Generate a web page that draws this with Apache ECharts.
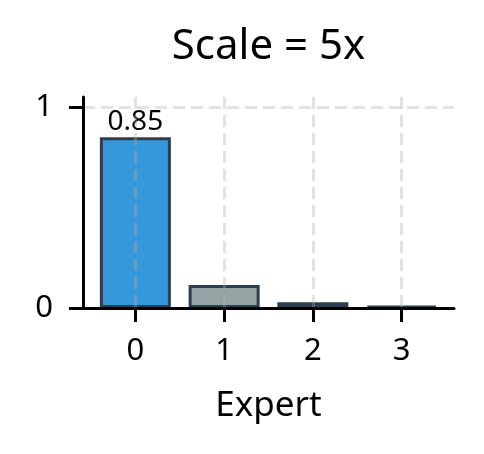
<!DOCTYPE html>
<html>
<head>
<meta charset="utf-8">
<script src="https://cdn.jsdelivr.net/npm/echarts@6/dist/echarts.min.js"></script>
<style>html,body{margin:0;padding:0;background:#fff}#c{width:484px;height:454px}</style>
</head>
<body>
<div id="c"></div>
<script>
var titleText = 'Scale = 5x';
var xName = 'Expert';
var experts = [0, 1, 2, 3];
var values = [0.85, 0.115, 0.028, 0.011];
var barColors = ['#3498db', '#95a5a6', '#95a5a6', '#95a5a6'];
var xTicks = [0, 1, 2, 3];
var yTicks = [0, 1];
var labelText = ['0.85', '', '', ''];

var FONT = '"Noto Sans", sans-serif';
var chart = echarts.init(document.getElementById('c'), null, {renderer: 'canvas'});
var gridStyle = {show: true, lineStyle: {color: 'rgba(176,176,176,0.35)', width: 3, type: [12, 6]}};
chart.setOption({
  animation: false,
  backgroundColor: '#fff',
  title: {
    text: titleText, left: 268.5, top: 26, textAlign: 'center', padding: 0,
    textStyle: {fontFamily: FONT, fontSize: 42, fontWeight: 'normal', color: '#000'}
  },
  grid: {left: 83, right: 30, top: 97, bottom: 146, containLabel: false},
  xAxis: {
    type: 'value', min: -0.59, max: 3.59, z: 3,
    name: xName, nameLocation: 'middle', nameGap: 81,
    nameTextStyle: {fontFamily: FONT, fontSize: 35, color: '#000'},
    axisLine: {show: true, onZero: false, lineStyle: {color: '#000', width: 3}},
    axisTick: {show: true, length: 14, lineStyle: {color: '#000', width: 3}, customValues: xTicks},
    axisLabel: {show: true, margin: 28, fontFamily: FONT, fontSize: 31, color: '#000', customValues: xTicks, formatter: function(v){return String(v);}},
    splitLine: gridStyle
  },
  yAxis: {
    type: 'value', min: 0, max: 1.05, z: 3,
    axisLine: {show: true, onZero: false, lineStyle: {color: '#000', width: 3}},
    axisTick: {show: true, length: 14, lineStyle: {color: '#000', width: 3}, customValues: yTicks},
    axisLabel: {show: true, margin: 30, padding: [4, 0, 0, 0], fontFamily: FONT, fontSize: 31, color: '#000', customValues: yTicks, formatter: function(v){return String(v);}},
    splitLine: gridStyle
  },
  series: [{
    type: 'bar',
    barWidth: 71,
    data: experts.map(function(e, i){
      return {
        value: [e, values[i]],
        itemStyle: {color: barColors[i], borderColor: '#2c3e50', borderWidth: 3},
        label: {show: labelText[i] !== '', position: 'top', distance: 1, formatter: labelText[i],
          fontFamily: FONT, fontSize: 28, color: '#000'}
      };
    })
  }]
});
</script>
</body>
</html>
